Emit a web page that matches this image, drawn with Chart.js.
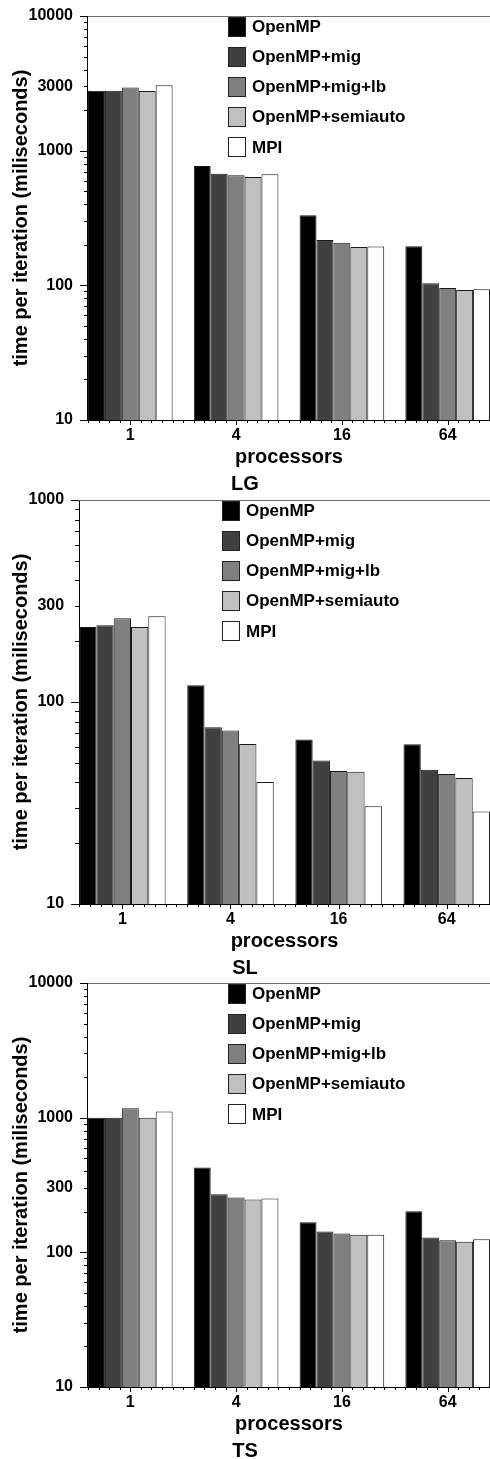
<!DOCTYPE html>
<html><head><meta charset="utf-8">
<script src="https://cdn.jsdelivr.net/npm/chart.js@4/dist/chart.umd.min.js"></script>
<style>
html,body{margin:0;padding:0;background:#fff;}
body{width:490px;height:1459px;position:relative;overflow:hidden;}
canvas{position:absolute;left:0;}
</style></head><body>
<canvas id="c1" width="490" height="494" style="top:0px"></canvas>
<canvas id="c2" width="490" height="494" style="top:484px"></canvas>
<canvas id="c3" width="490" height="494" style="top:967px"></canvas>
<script>
const categories = ['1', '4', '16', '64'];
const seriesNames = ['OpenMP', 'OpenMP+mig', 'OpenMP+mig+lb', 'OpenMP+semiauto', 'MPI'];
const seriesColors = ['#000000', '#404040', '#808080', '#c0c0c0', '#ffffff'];

// LG panel (ms)
const lgOpenMP   = [2790, 770, 331, 195];
const lgMig      = [2790, 675, 217, 103.5];
const lgMigLb    = [2950, 656, 207, 95.5];
const lgSemiauto = [2775, 637, 193, 92.3];
const lgMPI      = [3060, 667, 194, 93.4];
const lgTicks    = [10, 100, 1000, 3000, 10000];

// SL panel (ms)
const slOpenMP   = [235, 121, 65.2, 61.8];
const slMig      = [240, 75, 51.3, 46.2];
const slMigLb    = [260, 72.2, 45.5, 44];
const slSemiauto = [235, 62, 45.2, 42];
const slMPI      = [266, 40.2, 30.5, 28.7];
const slTicks    = [10, 100, 300, 1000];

// TS panel (ms)
const tsOpenMP   = [1000, 427, 167, 202];
const tsMig      = [1000, 270, 143, 129];
const tsMigLb    = [1173, 255, 138, 123];
const tsSemiauto = [1000, 247, 135, 120];
const tsMPI      = [1109, 251, 135, 125];
const tsTicks    = [10, 100, 300, 1000, 10000];

const FONT = '"Liberation Sans", Arial, Helvetica, sans-serif';

const decor = {
  id: 'decor',
  afterDraw(chart) {
    const {ctx, chartArea: a} = chart;
    const x = chart.scales.x, y = chart.scales.y;
    ctx.save();
    ctx.lineWidth = 1;
    // top frame line
    ctx.strokeStyle = '#6e6e6e';
    ctx.beginPath(); ctx.moveTo(a.left - 8, a.top + 0.5); ctx.lineTo(a.right, a.top + 0.5); ctx.stroke();
    // y axis ticks (major & minor, log)
    ctx.strokeStyle = '#000';
    const lo = Math.log10(y.min), hi = Math.log10(y.max);
    for (let d = Math.floor(lo); d <= Math.ceil(hi); d++) {
      for (let k = 1; k <= 9; k++) {
        const v = k * Math.pow(10, d);
        if (v < y.min * 0.999 || v > y.max * 1.001) continue;
        const py = Math.round(y.getPixelForValue(v)) + 0.5;
        const len = k === 1 ? 8 : 4;
        ctx.beginPath(); ctx.moveTo(a.left - len, py); ctx.lineTo(a.left, py); ctx.stroke();
      }
    }
    // x axis ticks
    for (let i = 0; ; i++) {
      const v = x.min + i * 0.1;
      if (v > x.max + 1e-6) break;
      const px = Math.round(x.getPixelForValue(v)) + 0.5;
      const major = Math.abs(v - Math.round(v)) < 1e-6;
      const len = major ? 5 : 3;
      ctx.beginPath(); ctx.moveTo(px, a.bottom); ctx.lineTo(px, a.bottom + len); ctx.stroke();
    }
    // legend
    const bx = Math.round(x.getPixelForValue(0.922));
    ctx.font = 'bold 17px ' + FONT;
    ctx.textBaseline = 'middle';
    ctx.textAlign = 'left';
    chart.data.datasets.forEach((ds, i) => {
      const cy = a.top + 10.5 + i * 30.1;
      const top = Math.round(cy - 10);
      ctx.fillStyle = ds.backgroundColor;
      ctx.fillRect(bx, top, 18, 20);
      ctx.strokeStyle = '#222';
      ctx.strokeRect(bx + 0.5, top + 0.5, 17, 19);
      ctx.fillStyle = '#000';
      ctx.fillText(ds.label, bx + 24, cy + 1);
    });
    ctx.restore();
  }
};

function makeChart(id, title, series, yMin, yMax, yTicks) {
  const datasets = series.map((arr, s) => ({
    label: seriesNames[s],
    data: arr.map((v, i) => ({x: i, y: v})),
    backgroundColor: seriesColors[s],
    borderColor: '#1a1a1a',
    borderWidth: 1,
    categoryPercentage: 0.8,
    barPercentage: 1.0
  }));
  return new Chart(document.getElementById(id), {
    type: 'bar',
    data: {datasets},
    plugins: [decor],
    options: {
      responsive: false,
      animation: false,
      layout: {padding: {top: 16, left: 0, right: 0, bottom: 0}},
      plugins: {
        legend: {display: false},
        tooltip: {enabled: false},
        title: {
          display: true, text: title, position: 'bottom', color: '#000',
          font: {family: FONT, size: 20, weight: 'bold', lineHeight: 1},
          padding: {top: 0, bottom: 0}
        }
      },
      scales: {
        x: {
          type: 'linear', offset: false, min: -0.4, max: 3.4,
          afterBuildTicks: (axis) => { axis.ticks = categories.map((c, i) => ({value: i})); },
          grid: {display: true, drawOnChartArea: false, drawTicks: true, tickLength: 6, tickColor: 'rgba(0,0,0,0)'},
          border: {display: true, color: '#000', width: 1},
          ticks: {
            color: '#000', padding: 0, maxRotation: 0, autoSkip: false,
            font: {family: FONT, size: 16, weight: 'bold', lineHeight: 1.2},
            callback: (v) => categories[Math.round(v)]
          },
          title: {
            display: true, text: 'processors', color: '#000',
            font: {family: FONT, size: 20, weight: 'bold', lineHeight: 1},
            padding: {top: 1.8, bottom: 7}
          }
        },
        y: {
          type: 'logarithmic', min: yMin, max: yMax,
          afterBuildTicks: (axis) => { axis.ticks = yTicks.map(v => ({value: v})); },
          grid: {display: true, drawOnChartArea: false, drawTicks: true, tickLength: 15, tickColor: 'rgba(0,0,0,0)'},
          border: {display: true, color: '#000', width: 1},
          ticks: {
            color: '#000', padding: 0, autoSkip: false,
            font: {family: FONT, size: 16, weight: 'bold', lineHeight: 1.2},
            callback: (v) => String(v)
          },
          title: {
            display: true, text: 'time per iteration (miliseconds)', color: '#000',
            font: {family: FONT, size: 20, weight: 'bold', lineHeight: 1},
            padding: {top: 11, bottom: -2.5}
          }
        }
      }
    }
  });
}

makeChart('c1', 'LG', [lgOpenMP, lgMig, lgMigLb, lgSemiauto, lgMPI], 10, 10000, lgTicks);
makeChart('c2', 'SL', [slOpenMP, slMig, slMigLb, slSemiauto, slMPI], 10, 1000, slTicks);
makeChart('c3', 'TS', [tsOpenMP, tsMig, tsMigLb, tsSemiauto, tsMPI], 10, 10000, tsTicks);
</script>
</body></html>
